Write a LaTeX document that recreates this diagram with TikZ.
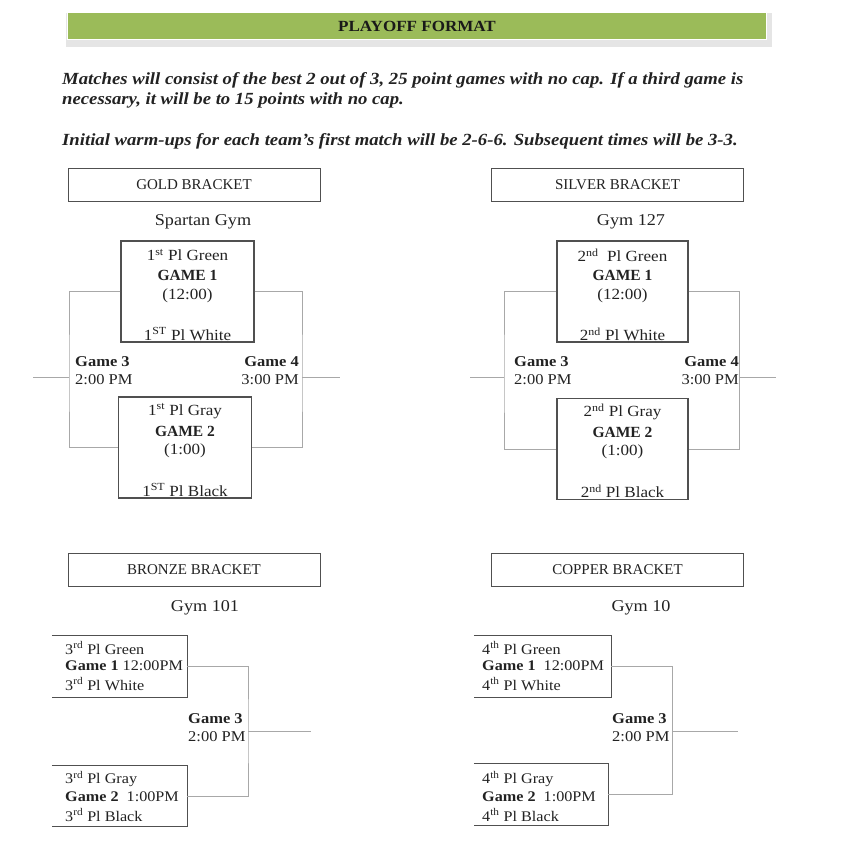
\documentclass[tikz,border=0pt]{standalone}
\usepackage{fontspec}
\setmainfont{Liberation Serif}[FakeStretch=1.1]
\newfontfamily\serifplain{Liberation Serif}
\definecolor{banner}{HTML}{9BBB59}
\definecolor{ink}{HTML}{222222}
\definecolor{boxline}{HTML}{505050}
\definecolor{connline}{HTML}{A8A8A8}
\begin{document}
\begin{tikzpicture}[x=1pt,y=-1pt,
  hdr/.style={draw=boxline, line width=1pt, minimum width=252pt, minimum height=33pt, inner sep=0pt, text=ink, font=\serifplain\fontsize{15}{17}\selectfont},
  gamebox/.style={draw=boxline, line width=1.3pt, minimum width=133pt, minimum height=101pt, inner sep=0pt},
  tbox/.style={minimum width=135pt, minimum height=61pt, inner sep=0pt},
  conn/.style={draw=connline, line width=1pt},
  open/.style={draw=boxline, line width=1.2pt},
  para/.style={anchor=west, text=ink, font=\bfseries\itshape\fontsize{17}{19}\selectfont, inner sep=0pt},
  serif/.style={text=ink, font=\fontsize{15.5}{17}\selectfont, inner sep=0pt},
  serifb/.style={text=ink, font=\serifplain\bfseries\fontsize{15.5}{17}\selectfont, inner sep=0pt},
  gym/.style={text=ink, font=\fontsize{16.5}{18}\selectfont, inner sep=0pt},
  glbl/.style={text=ink, font=\fontsize{15}{18}\selectfont, inner sep=0pt, align=left},
  glblr/.style={text=ink, font=\fontsize{15}{18}\selectfont, inner sep=0pt, align=right},
  tline/.style={text=ink, font=\fontsize{14.7}{17}\selectfont, inner sep=0pt, anchor=west}
]
\useasboundingbox (0,0) rectangle (864,846);
% banner
\fill[black!18] (70,15) rectangle (770,45);
\fill[black!10] (66,13) rectangle (772,47);
\node[fill=banner, draw=white, line width=1.2pt, minimum width=699pt, minimum height=27pt, inner sep=0pt, text=black!90, font=\bfseries\fontsize{15.5}{17}\selectfont] (title) at (417,26) {PLAYOFF FORMAT};
% paragraph
\node[para] (p1) at (62,80) {Matches will consist of the best 2 out of 3, 25 point games with no cap. If a third game is};
\node[para] (p2) at (62,100) {necessary, it will be to 15 points with no cap.};
\node[para] (p3) at (62,141) {Initial warm-ups for each team’s first match will be 2-6-6. Subsequent times will be 3-3.};

% ================= GOLD =================
\node[hdr] (goldh) at (194,184.5) {GOLD BRACKET};
\node[gym] (goldgym) at (203,222) {Spartan Gym};
\node[gamebox] (g1) at (187.5,291.5) {};
\node[serif] (g1a) at (187.5,255) {1\textsuperscript{st} Pl Green};
\node[serifb] (g1b) at (187.5,275) {GAME 1};
\node[serif] (g1c) at (187.5,296) {(12:00)};
\node[serif] (g1d) at (187.5,334) {1\textsuperscript{ST} Pl White};
\node[gamebox] (g2) at (185,447.5) {};
\node[serif] (g2a) at (185,411) {1\textsuperscript{st} Pl Gray};
\node[serifb] (g2b) at (185,431) {GAME 2};
\node[serif] (g2c) at (185,451) {(1:00)};
\node[serif] (g2d) at (185,490) {1\textsuperscript{ST} Pl Black};
\coordinate (g3) at (69,377);
\coordinate (g4) at (302,377);
\coordinate (g3e) at (33,377);
\coordinate (g4e) at (340,377);
\draw[conn] (g1.west) -| (g3) |- (g2.west);
\draw[conn] (g1.east) -| (g4) |- (g2.east);
\draw[conn] (g3) -- (g3e);
\draw[conn] (g4) -- (g4e);
\node[glbl, anchor=north west] (g3l) at (75,356) {\textbf{Game 3}\\2:00 PM};
\node[glblr, anchor=north east] (g4l) at (299,356) {\textbf{Game 4}\\3:00 PM};

% ================= SILVER =================
\node[hdr] (silh) at (617.5,184.5) {SILVER BRACKET};
\node[gym] (silgym) at (631,222) {Gym 127};
\node[gamebox, minimum width=131pt] (s1) at (622.5,291.5) {};
\node[serif] (s1a) at (622.5,255) {2\textsuperscript{nd}\ \ Pl Green};
\node[serifb] (s1b) at (622.5,275) {GAME 1};
\node[serif] (s1c) at (622.5,296) {(12:00)};
\node[serif] (s1d) at (622.5,334) {2\textsuperscript{nd} Pl White};
\node[gamebox, minimum width=131pt] (s2) at (622.5,449) {};
\node[serif] (s2a) at (622.5,412) {2\textsuperscript{nd} Pl Gray};
\node[serifb] (s2b) at (622.5,432) {GAME 2};
\node[serif] (s2c) at (622.5,452) {(1:00)};
\node[serif] (s2d) at (622.5,491) {2\textsuperscript{nd} Pl Black};
\coordinate (s3) at (504,377);
\coordinate (s4) at (739,377);
\coordinate (s3e) at (470,377);
\coordinate (s4e) at (776,377);
\draw[conn] (s1.west) -| (s3) |- (s2.west);
\draw[conn] (s1.east) -| (s4) |- (s2.east);
\draw[conn] (s3) -- (s3e);
\draw[conn] (s4) -- (s4e);
\node[glbl, anchor=north west] (s3l) at (514,356) {\textbf{Game 3}\\2:00 PM};
\node[glblr, anchor=north east] (s4l) at (739,356) {\textbf{Game 4}\\3:00 PM};

% ================= BRONZE =================
\node[hdr] (brh) at (194,569.5) {BRONZE BRACKET};
\node[gym] (brgym) at (205,608) {Gym 101};
\node[tbox] (b1) at (119.5,666.5) {};
\draw[open] (b1.north west) -- (b1.north east) -- (b1.south east) -- (b1.south west);
\node[tline] (b1a) at (65,648) {3\textsuperscript{rd} Pl Green};
\node[tline] (b1b) at (65,666) {\textbf{Game 1} 12:00PM};
\node[tline] (b1c) at (65,684) {3\textsuperscript{rd} Pl White};
\node[tbox] (b2) at (119.5,796) {};
\draw[open] (b2.north west) -- (b2.north east) -- (b2.south east) -- (b2.south west);
\node[tline] (b2a) at (65,779) {3\textsuperscript{rd} Pl Gray};
\node[tline] (b2b) at (65,797) {\textbf{Game 2}\ \ 1:00PM};
\node[tline] (b2c) at (65,815) {3\textsuperscript{rd} Pl Black};
\coordinate (b3) at (248,731);
\coordinate (b3e) at (311,731);
\draw[conn] (b1.east) -| (b3) |- (b2.east);
\draw[conn] (b3) -- (b3e);
\node[glbl, anchor=north west] (b3l) at (188,713) {\textbf{Game 3}\\2:00 PM};

% ================= COPPER =================
\node[hdr] (coh) at (617.5,569.5) {COPPER BRACKET};
\node[gym] (cogym) at (641,608) {Gym 10};
\node[tbox, minimum width=137pt] (c1) at (542.5,666.5) {};
\draw[open] (c1.north west) -- (c1.north east) -- (c1.south east) -- (c1.south west);
\node[tline] (c1a) at (482,648) {4\textsuperscript{th} Pl Green};
\node[tline] (c1b) at (482,666) {\textbf{Game 1}\ \ 12:00PM};
\node[tline] (c1c) at (482,684) {4\textsuperscript{th} Pl White};
\node[tbox, minimum width=134pt] (c2) at (541,794.5) {};
\draw[open] (c2.north west) -- (c2.north east) -- (c2.south east) -- (c2.south west);
\node[tline] (c2a) at (482,779) {4\textsuperscript{th} Pl Gray};
\node[tline] (c2b) at (482,797) {\textbf{Game 2}\ \ 1:00PM};
\node[tline] (c2c) at (482,815) {4\textsuperscript{th} Pl Black};
\coordinate (c3) at (672,731);
\coordinate (c3e) at (738,731);
\draw[conn] (c1.east) -| (c3) |- (c2.east);
\draw[conn] (c3) -- (c3e);
\node[glbl, anchor=north west] (c3l) at (612,713) {\textbf{Game 3}\\2:00 PM};
\end{tikzpicture}
\end{document}
